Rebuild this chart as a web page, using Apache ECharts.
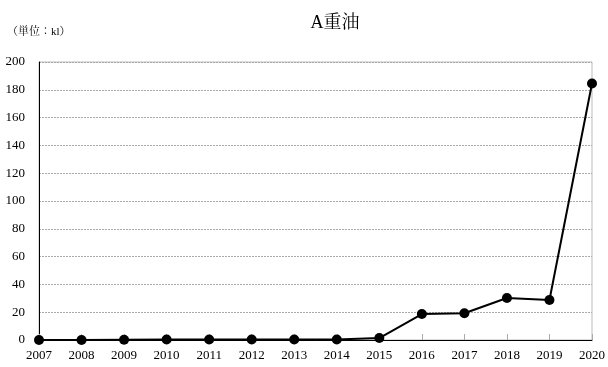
<!DOCTYPE html>
<html>
<head>
<meta charset="utf-8">
<script src="https://cdn.jsdelivr.net/npm/echarts@6/dist/echarts.min.js"></script>
<style>
  html, body { margin: 0; padding: 0; background: #fff; }
  #main { width: 608px; height: 367px; }
</style>
</head>
<body>
<div id="main"></div>
<script>
// 年度
const years = ['2007', '2008', '2009', '2010', '2011', '2012', '2013',
  '2014', '2015', '2016', '2017', '2018', '2019', '2020']
// A重油 (kl)
const heavyOil = [0, 0, 0.2, 0.3, 0.3, 0.3, 0.3, 0.3, 1.4, 18.7, 19.2, 30.2, 28.8, 184.5]
const yTicks = [0, 20, 40, 60, 80, 100, 120, 140, 160, 180, 200]

const fontSerif = '"Liberation Serif", "Times New Roman", "Noto Serif CJK JP", serif'

const myChart = echarts.init(document.getElementById('main'))
myChart.setOption({
  animation: false,
  backgroundColor: '#fff',
  title: [{
    text: 'A重油',
    left: 330,
    top: 9,
    textAlign: 'center',
    textStyle: { fontFamily: fontSerif, fontSize: 18, fontWeight: 'normal', color: '#000' }
  }, {
    text: '（単位：kl）',
    left: 2,
    top: 22,
    textStyle: { fontFamily: fontSerif, fontSize: 11, fontWeight: 'normal', color: '#000' }
  }],
  grid: {
    left: 39, right: 13, top: 62, bottom: 27,
    show: true, borderColor: '#bbb', borderWidth: 1
  },
  xAxis: {
    type: 'category',
    data: years,
    boundaryGap: false,
    axisLine: { lineStyle: { color: '#000', width: 1 } },
    axisTick: { inside: true, length: 6, lineStyle: { color: '#aaa' }, alignWithLabel: true },
    axisLabel: { color: '#000', fontFamily: fontSerif, fontSize: 13, margin: 9, interval: 0 },
    splitLine: { show: false }
  },
  yAxis: {
    type: 'value',
    min: yTicks[0],
    max: yTicks[yTicks.length - 1],
    interval: 20,
    axisLine: { show: true, lineStyle: { color: '#000', width: 1 } },
    axisTick: { show: false },
    axisLabel: { color: '#000', fontFamily: fontSerif, fontSize: 13, margin: 14 },
    splitLine: { lineStyle: { color: '#aaa', type: [2, 1], width: 1 } }
  },
  series: [{
    type: 'line',
    data: heavyOil,
    symbol: 'circle',
    symbolSize: 10,
    itemStyle: { color: '#000' },
    lineStyle: { color: '#000', width: 2 }
  }]
})
</script>
</body>
</html>
